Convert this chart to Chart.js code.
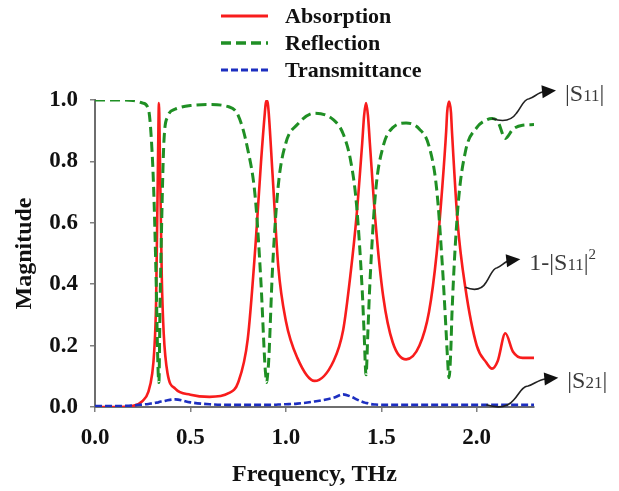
<!DOCTYPE html>
<html>
<head>
<meta charset="utf-8">
<script src="https://cdn.jsdelivr.net/npm/chart.js@4/dist/chart.umd.min.js"></script>
<style>
  html, body { margin: 0; padding: 0; background: #ffffff; }
  #wrap { width: 619px; height: 491px; }
</style>
</head>
<body>
<div id="wrap"><canvas id="c" width="619" height="491"></canvas></div>
<script>
// Frequency samples (THz), denser around the resonances
const frequency = [
  0, 0.1, 0.2, 0.25, 0.28, 0.30, 0.31, 0.32, 0.33, 0.335,
  0.34, 0.35, 0.36, 0.38, 0.42, 0.5, 0.6, 0.7, 0.75, 0.8,
  0.84, 0.87, 0.89, 0.895, 0.90, 0.905, 0.91, 0.93, 0.96, 1.0,
  1.06, 1.15, 1.25, 1.3, 1.34, 1.37, 1.40, 1.41, 1.42, 1.43,
  1.44, 1.47, 1.51, 1.56, 1.63, 1.70, 1.75, 1.79, 1.82, 1.84,
  1.845, 1.855, 1.865, 1.87, 1.90, 1.94, 2.0, 2.05, 2.08, 2.11,
  2.15, 2.19, 2.24, 2.3
];

// Absorption, 1-|S11|^2
const absorption = [
  0.0, 0.0, 0.004, 0.02, 0.05, 0.11, 0.18, 0.34, 0.8, 0.99,
  0.82, 0.42, 0.24, 0.11, 0.06, 0.04, 0.033, 0.045, 0.08, 0.22,
  0.52, 0.8, 0.96, 0.99, 0.998, 0.99, 0.96, 0.76, 0.46, 0.28,
  0.16, 0.085, 0.15, 0.25, 0.44, 0.62, 0.86, 0.95, 0.99, 0.95,
  0.86, 0.6, 0.36, 0.21, 0.155, 0.2, 0.31, 0.5, 0.72, 0.9,
  0.96, 0.995, 0.96, 0.9, 0.6, 0.39, 0.2, 0.145, 0.125, 0.15,
  0.24, 0.18, 0.16, 0.16
];

// Reflection, |S11|
const reflection = [
  1.0, 1.0, 0.998, 0.99, 0.97, 0.82, 0.66, 0.42, 0.13, 0.08,
  0.3, 0.62, 0.85, 0.945, 0.97, 0.982, 0.985, 0.978, 0.95, 0.84,
  0.68, 0.4, 0.14, 0.1, 0.08, 0.11, 0.15, 0.45, 0.72, 0.86,
  0.92, 0.957, 0.935, 0.89, 0.8, 0.66, 0.38, 0.24, 0.105, 0.25,
  0.4, 0.7, 0.85, 0.91, 0.925, 0.905, 0.85, 0.71, 0.46, 0.24,
  0.18, 0.095, 0.2, 0.3, 0.64, 0.83, 0.91, 0.935, 0.94, 0.93,
  0.875, 0.905, 0.918, 0.92
];

// Transmittance, |S21|
const transmittance = [
  0.003, 0.003, 0.005, 0.008, 0.01, 0.012, 0.013, 0.014, 0.015, 0.016,
  0.017, 0.018, 0.019, 0.022, 0.025, 0.015, 0.009, 0.007, 0.007, 0.007,
  0.007, 0.007, 0.007, 0.007, 0.007, 0.007, 0.007, 0.007, 0.008, 0.009,
  0.011, 0.018, 0.03, 0.041, 0.034, 0.025, 0.017, 0.015, 0.013, 0.012,
  0.01, 0.008, 0.007, 0.007, 0.007, 0.007, 0.007, 0.007, 0.007, 0.007,
  0.007, 0.007, 0.007, 0.007, 0.007, 0.007, 0.007, 0.007, 0.007, 0.007,
  0.007, 0.007, 0.007, 0.007
];

const seriesNames = ['Absorption', 'Reflection', 'Transmittance'];
const xTickValues = [0, 0.5, 1.0, 1.5, 2.0];
const yTickValues = [0, 0.2, 0.4, 0.6, 0.8, 1.0];

const SERIF = "'Liberation Serif', 'Times New Roman', serif";

function points(values) {
  return frequency.map((f, i) => ({ x: f, y: values[i] }));
}

// Legend stacked above the plot, one entry per row
const stackedLegend = {
  id: 'stackedLegend',
  afterDraw(chart) {
    const ctx = chart.ctx;
    const rows = [16, 43, 70];
    ctx.save();
    chart.data.datasets.forEach((ds, i) => {
      const y = rows[i];
      ctx.beginPath();
      ctx.strokeStyle = ds.borderColor;
      ctx.lineWidth = ds.borderWidth + 0.5;
      ctx.setLineDash(ds.borderDash || []);
      ctx.moveTo(221, y);
      ctx.lineTo(268, y);
      ctx.stroke();
      ctx.setLineDash([]);
      ctx.fillStyle = '#111';
      ctx.font = 'bold 22px ' + SERIF;
      ctx.textBaseline = 'middle';
      ctx.textAlign = 'left';
      ctx.fillText(ds.label, 285, y + 1);
    });
    ctx.restore();
  }
};

// Curly arrows pointing from a curve to its symbol on the right
function drawRich(ctx, parts, x, y) {
  let cx = x;
  parts.forEach(p => {
    ctx.font = p.size + 'px ' + SERIF;
    ctx.fillText(p.t, cx, y + (p.dy || 0));
    cx += ctx.measureText(p.t).width + (p.gap || 0);
  });
}

function curlyArrow(ctx, ax, ay, w, h) {
  const P = (fx, fy) => [ax + fx * w, ay + fy * h];
  const s1 = P(0.38, 0.18), c1 = P(0.15, -0.12), c2 = P(0.29, -0.12);
  const s2 = P(0.58, 0.7), c3 = P(0.46, 0.4), c4 = P(0.49, 0.68);
  const s3 = P(0.815, 0.96), c5 = P(0.66, 0.75), c6 = P(0.72, 0.93);
  ctx.beginPath();
  ctx.moveTo(ax, ay);
  ctx.bezierCurveTo(c1[0], c1[1], c2[0], c2[1], s1[0], s1[1]);
  ctx.bezierCurveTo(c3[0], c3[1], c4[0], c4[1], s2[0], s2[1]);
  ctx.bezierCurveTo(c5[0], c5[1], c6[0], c6[1], s3[0], s3[1]);
  ctx.stroke();
  const tx = ax + w, ty = ay + h;
  const ang = Math.atan2(ty - s3[1], tx - s3[0]);
  const L = 14, H = 6.5;
  ctx.beginPath();
  ctx.moveTo(tx, ty);
  ctx.lineTo(tx - L * Math.cos(ang) + H * Math.sin(ang), ty - L * Math.sin(ang) - H * Math.cos(ang));
  ctx.lineTo(tx - L * Math.cos(ang) - H * Math.sin(ang), ty - L * Math.sin(ang) + H * Math.cos(ang));
  ctx.closePath();
  ctx.fill();
}

const curveLabels = {
  id: 'curveLabels',
  afterDraw(chart) {
    const ctx = chart.ctx;
    const xs = chart.scales.x, ys = chart.scales.y;
    const at = (fx, arr) => {
      const i = frequency.indexOf(fx);
      return [xs.getPixelForValue(fx), ys.getPixelForValue(arr[i])];
    };
    const items = [
      { anchor: at(2.08, reflection), w: 64, h: -28,
        parts: [{ t: '|S', size: 24 }, { t: '11', size: 17, dy: 2 }, { t: '|', size: 24 }] },
      { anchor: at(1.94, absorption), w: 55, h: -28,
        parts: [{ t: '1-|S', size: 24 }, { t: '11', size: 17, dy: 2 }, { t: '|', size: 24 }, { t: '2', size: 15, dy: -8 }] },
      { anchor: at(2.05, transmittance), w: 72, h: -27,
        parts: [{ t: '|S', size: 24 }, { t: '21', size: 17, dy: 2 }, { t: '|', size: 24 }] }
    ];
    ctx.save();
    ctx.strokeStyle = '#222';
    ctx.fillStyle = '#111';
    ctx.lineWidth = 1.6;
    items.forEach(it => {
      const [ax, ay] = it.anchor;
      curlyArrow(ctx, ax, ay, it.w, it.h);
      ctx.fillStyle = '#3a3a3a';
      ctx.textBaseline = 'middle';
      ctx.textAlign = 'left';
      drawRich(ctx, it.parts, ax + it.w + 9, ay + it.h + 4);
      ctx.fillStyle = '#111';
    });
    ctx.restore();
  }
};

const tickFont = { family: SERIF, size: 23, weight: 'bold' };
const titleFont = { family: SERIF, size: 24, weight: 'bold' };

new Chart(document.getElementById('c'), {
  type: 'line',
  data: {
    datasets: [
      { label: seriesNames[0], data: points(absorption), borderColor: '#f81c1c', borderWidth: 2.6,
        order: 3, pointRadius: 0, cubicInterpolationMode: 'monotone', fill: false },
      { label: seriesNames[1], data: points(reflection), borderColor: '#1f8f24', borderWidth: 3,
        borderDash: [10, 5], order: 2, pointRadius: 0, cubicInterpolationMode: 'monotone', fill: false },
      { label: seriesNames[2], data: points(transmittance), borderColor: '#1d2fc0', borderWidth: 2.6,
        borderDash: [7, 3], order: 1, pointRadius: 0, cubicInterpolationMode: 'monotone', fill: false }
    ]
  },
  options: {
    responsive: false,
    animation: false,
    devicePixelRatio: 1,
    layout: { padding: { top: 100, right: 85, bottom: 0, left: 0 } },
    plugins: { legend: { display: false }, tooltip: { enabled: false } },
    scales: {
      x: {
        type: 'linear', min: 0, max: 2.3,
        afterFit: s => { s.height = 84; },
        afterBuildTicks: s => { s.ticks = xTickValues.map(v => ({ value: v })); },
        ticks: { font: tickFont, color: '#111', padding: 12, maxRotation: 0,
                 callback: v => Number(v).toFixed(1) },
        grid: { drawOnChartArea: false, drawTicks: true, tickLength: 5, color: '#808080', lineWidth: 1.5 },
        border: { display: true, color: '#6e6e6e', width: 2 },
        title: { display: true, text: 'Frequency, THz', font: titleFont, color: '#111',
                 padding: { top: 0, bottom: 2 } }
      },
      y: {
        type: 'linear', min: 0, max: 1,
        afterFit: s => { s.width = 95; },
        afterBuildTicks: s => { s.ticks = yTickValues.map(v => ({ value: v })); },
        ticks: { font: tickFont, color: '#111', padding: 12,
                 callback: v => Number(v).toFixed(1) },
        grid: { drawOnChartArea: false, drawTicks: true, tickLength: 5, color: '#808080', lineWidth: 1.5 },
        border: { display: true, color: '#6e6e6e', width: 2 },
        title: { display: true, text: 'Magnitude', font: titleFont, color: '#111',
                 padding: { top: 10, bottom: 0 } }
      }
    }
  },
  plugins: [stackedLegend, curveLabels]
});
</script>
</body>
</html>
